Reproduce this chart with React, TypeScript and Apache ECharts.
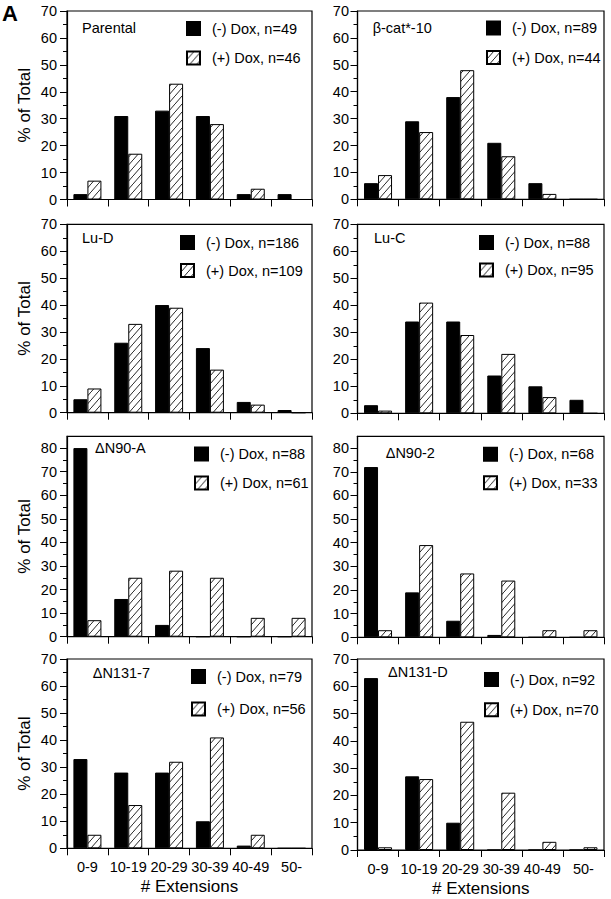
import React, { useEffect, useRef } from "react";
import * as echarts from "echarts";

const categories = ["0-9", "10-19", "20-29", "30-39", "40-49", "50-"];

const panelTitles = ["Parental", "β-cat*-10", "Lu-D", "Lu-C", "ΔN90-A", "ΔN90-2", "ΔN131-7", "ΔN131-D"];

const minusLabels = ["(-) Dox, n=49", "(-) Dox, n=89", "(-) Dox, n=186", "(-) Dox, n=88", "(-) Dox, n=88", "(-) Dox, n=68", "(-) Dox, n=79", "(-) Dox, n=92"];
const plusLabels = ["(+) Dox, n=46", "(+) Dox, n=44", "(+) Dox, n=109", "(+) Dox, n=95", "(+) Dox, n=61", "(+) Dox, n=33", "(+) Dox, n=56", "(+) Dox, n=70"];

const parentalMinus = [2, 31, 33, 31, 2, 2];
const parentalPlus = [7, 17, 43, 28, 4, 0];
const betaCatMinus = [6, 29, 38, 21, 6, 0];
const betaCatPlus = [9, 25, 48, 16, 2, 0];
const luDMinus = [5, 26, 40, 24, 4, 1];
const luDPlus = [9, 33, 39, 16, 3, 0];
const luCMinus = [3, 34, 34, 14, 10, 5];
const luCPlus = [1, 41, 29, 22, 6, 0];
const dN90AMinus = [80, 16, 5, 0, 0, 0];
const dN90APlus = [7, 25, 28, 25, 8, 8];
const dN902Minus = [72, 19, 7, 1, 0, 0];
const dN902Plus = [3, 39, 27, 24, 3, 3];
const dN1317Minus = [33, 28, 28, 10, 1, 0];
const dN1317Plus = [5, 16, 32, 41, 5, 0];
const dN131DMinus = [63, 27, 10, 0, 0, 0];
const dN131DPlus = [1, 26, 47, 21, 3, 1];

const yTicks70 = [0, 10, 20, 30, 40, 50, 60, 70];
const yTicks80 = [0, 10, 20, 30, 40, 50, 60, 70, 80];

const minusData = [parentalMinus, betaCatMinus, luDMinus, luCMinus, dN90AMinus, dN902Minus, dN1317Minus, dN131DMinus];
const plusData = [parentalPlus, betaCatPlus, luDPlus, luCPlus, dN90APlus, dN902Plus, dN1317Plus, dN131DPlus];

const FONT = "'Liberation Sans', Arial, Helvetica, sans-serif";
const FS = 14.5;

// layout (pixels)
const gridBoxes = [
  { left: 67, width: 245, top: 11, height: 188.5 },
  { left: 357.5, width: 246.5, top: 11, height: 188.3 },
  { left: 67, width: 245, top: 224.3, height: 188.4 },
  { left: 357.5, width: 246.5, top: 224.3, height: 189 },
  { left: 67, width: 245, top: 436.3, height: 200.4 },
  { left: 357.5, width: 246.5, top: 436.3, height: 201 },
  { left: 67, width: 245, top: 659, height: 189.3 },
  { left: 357.5, width: 246.5, top: 659, height: 191 },
];
const legendPos = [
  { left: 186, top: 21, gap: 14.5 },
  { left: 486, top: 20.5, gap: 14.5 },
  { left: 180, top: 235, gap: 13 },
  { left: 479, top: 235, gap: 12.5 },
  { left: 194, top: 446.5, gap: 14 },
  { left: 483, top: 446.7, gap: 13.5 },
  { left: 191, top: 669, gap: 17.5 },
  { left: 484, top: 672, gap: 15.2 },
];
const titlePos = [
  { x: 82, y: 28 },
  { x: 372.7, y: 28 },
  { x: 82, y: 238 },
  { x: 374, y: 238 },
  { x: 95, y: 448 },
  { x: 385.7, y: 453 },
  { x: 92.7, y: 673 },
  { x: 388, y: 672 },
];

function makeHatch() {
  const w = 7;
  const h = 8;
  const c = document.createElement("canvas");
  c.width = w;
  c.height = h;
  const ctx = c.getContext("2d");
  if (ctx) {
    ctx.fillStyle = "#fff";
    ctx.fillRect(0, 0, w, h);
    ctx.strokeStyle = "#111";
    ctx.lineWidth = 0.9;
    ctx.beginPath();
    ctx.moveTo(-1, h + h / w);
    ctx.lineTo(w + 1, -h / w);
    ctx.stroke();
  }
  return c;
}

export default function App() {
  const ref = useRef<HTMLDivElement>(null);
  useEffect(() => {
    if (!ref.current) return;
    const chart = echarts.init(ref.current, null, { renderer: "svg" });
    const hatch = makeHatch();
    const hatchFill: any = { image: hatch, repeat: "repeat", imageWidth: 7, imageHeight: 8 };

    const grid: any[] = [];
    const xAxis: any[] = [];
    const yAxis: any[] = [];
    const series: any[] = [];
    const legend: any[] = [];
    const graphic: any[] = [];

    for (let i = 0; i < 8; i++) {
      const g = gridBoxes[i];
      const isLeft = i % 2 === 0;
      const isBottom = i >= 6;
      const tall = i === 4 || i === 5;
      grid.push({
        left: g.left,
        top: g.top,
        width: g.width,
        height: g.height,
        show: true,
        borderColor: "#000",
        borderWidth: 1.2,
        backgroundColor: "transparent",
      });
      xAxis.push({
        type: "category",
        gridIndex: i,
        data: categories,
        boundaryGap: true,
        axisLine: { show: true, lineStyle: { color: "#000", width: 1.2 } },
        axisTick: { show: true, length: 7, lineStyle: { color: "#000", width: 1 } },
        axisLabel: {
          show: isBottom,
          fontSize: FS,
          color: "#000",
          fontFamily: FONT,
          margin: 11,
          interval: 0,
        },
        name: isBottom ? "# Extensions" : "",
        nameLocation: "middle",
        nameGap: 30,
        nameTextStyle: { fontSize: 17, color: "#000", fontFamily: FONT },
        splitLine: { show: false },
      });
      const ticks = tall ? yTicks80 : yTicks70;
      yAxis.push({
        type: "value",
        gridIndex: i,
        min: 0,
        max: tall ? 85 : 70,
        interval: 10,
        axisLine: { show: true, lineStyle: { color: "#000", width: 1.2 } },
        axisTick: { show: true, length: 7, lineStyle: { color: "#000", width: 1 }, customValues: ticks },
        minorTick: { show: true, splitNumber: 2, length: 4, lineStyle: { color: "#000", width: 1 } },
        axisLabel: {
          fontSize: FS,
          color: "#000",
          fontFamily: FONT,
          margin: isLeft ? 10 : 8.5,
          customValues: ticks,
        },
        splitLine: { show: false },
        name: isLeft ? "% of Total" : "",
        nameLocation: "middle",
        nameGap: 34,
        nameTextStyle: { fontSize: 17, color: "#000", fontFamily: FONT },
      });
      series.push({
        type: "bar",
        name: minusLabels[i],
        xAxisIndex: i,
        yAxisIndex: i,
        data: minusData[i],
        barWidth: 14,
        barGap: "0%",
        itemStyle: { color: "#000", borderColor: "#000", borderWidth: 1 },
      });
      series.push({
        type: "bar",
        name: plusLabels[i],
        xAxisIndex: i,
        yAxisIndex: i,
        data: plusData[i],
        barWidth: 14,
        barGap: "0%",
        itemStyle: { color: hatchFill, borderColor: "#000", borderWidth: 1 },
      });
      const lp = legendPos[i];
      legend.push({
        data: [minusLabels[i], plusLabels[i]],
        orient: "vertical",
        left: lp.left,
        top: lp.top,
        padding: 0,
        itemGap: lp.gap,
        itemWidth: 13,
        itemHeight: 13,
        icon: "rect",
        selectedMode: false,
        textStyle: { fontSize: FS, color: "#000", fontFamily: FONT, lineHeight: 14.5, padding: [0, 0, 0, 7] },
      });
      const tp = titlePos[i];
      graphic.push({
        type: "text",
        x: tp.x,
        y: tp.y,
        style: {
          text: panelTitles[i],
          fontSize: FS,
          fontFamily: FONT,
          fill: "#000",
          verticalAlign: "middle",
          align: "left",
        },
      });
    }
    graphic.push({
      type: "text",
      x: 2,
      y: 13,
      style: {
        text: "A",
        fontSize: 22,
        fontWeight: "bold",
        fontFamily: FONT,
        fill: "#000",
        verticalAlign: "middle",
        align: "left",
      },
    });

    chart.setOption({
      animation: false,
      backgroundColor: "#fff",
      grid,
      xAxis,
      yAxis,
      series,
      legend,
      graphic,
    });
    return () => chart.dispose();
  }, []);
  return (
    <div
      ref={ref}
      style={{ position: "fixed", left: 0, top: 0, width: 611, height: 899 }}
    />
  );
}
